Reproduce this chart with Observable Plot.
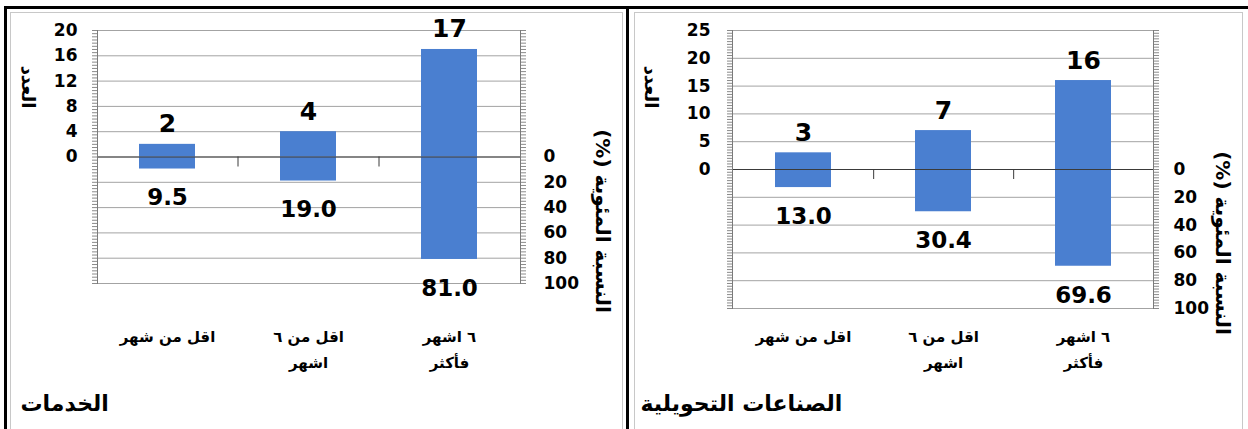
<!DOCTYPE html>
<html><head><meta charset="utf-8">
<script src="https://cdn.jsdelivr.net/npm/d3@7"></script>
<script src="https://cdn.jsdelivr.net/npm/@observablehq/plot@0.6"></script>
<style>
body{margin:0;background:#fff;width:1248px;height:429px;overflow:hidden;position:relative;font-family:"DejaVu Sans";}
#p1{position:absolute;left:0;top:0;}
#p2{position:absolute;left:628px;top:0;}
.b{position:absolute;}
.vt{position:absolute;transform:translate(-50%,-50%) rotate(90deg);white-space:nowrap;direction:rtl;font-family:"DejaVu Sans";font-weight:bold;color:#000;line-height:1;}
</style></head><body>
<div id="p1"></div><div id="p2"></div>
<div class="b" style="left:10px;top:12px;width:611px;height:430px;border:1px solid #c8c8c8"></div>
<div class="b" style="left:634px;top:12px;width:607px;height:430px;border:1px solid #c8c8c8"></div>
<div class="b" style="left:4px;top:6px;width:1244px;height:3px;background:#000"></div>
<div class="b" style="left:4px;top:6px;width:3px;height:430px;background:#000"></div>
<div class="b" style="left:626px;top:6px;width:3px;height:430px;background:#000"></div>
<script>
// ---- data ----
const categories = ["اقل من شهر", "اقل من ٦ اشهر", "٦ اشهر فأكثر"];
const categoryLabels = ["اقل من شهر", "اقل من ٦\nاشهر", "٦ اشهر\nفأكثر"];
const servicesCount = [2, 4, 17];
const servicesPct = [9.5, 19.0, 81.0];
const manufCount = [3, 7, 16];
const manufPct = [13.0, 30.4, 69.6];
const servicesCountTicks = [0, 4, 8, 12, 16, 20];
const manufCountTicks = [0, 5, 10, 15, 20, 25];
const pctTicks = [0, 20, 40, 60, 80, 100];
const panelTitles = ["الخدمات", "الصناعات التحويلية"];
const yTitle = "العدد";
const y2Title = "النسبة المئوية (%)";

const BLUE = "#4a7fd0";
const NUM = {fontFamily: "DejaVu Sans", fontWeight: "bold"};

function vtitle(text, left, top, size) {
  const d = document.createElement("div");
  d.className = "vt";
  d.textContent = text;
  d.style.left = left + "px";
  d.style.top = top + "px";
  d.style.fontSize = size + "px";
  document.body.append(d);
}

function panel(o) {
  const rows = categories.map((c, i) => ({cat: c, count: o.count[i], pct: o.pct[i]}));
  const plotW = o.width - o.mL - o.mR;
  const plotH = o.height - o.mT - o.mB;
  const step = plotW / categories.length;
  const unitPx = plotH / (2 * o.yMax);
  const grid = d3.range(-o.yMax, o.yMax + 0.001, o.step);
  const minor = d3.range(-o.yMax, o.yMax + 0.001, 0.5);
  const labelOf = new Map(categories.map((c, i) => [c, categoryLabels[i]]));
  return Plot.plot({
    width: o.width, height: o.height,
    marginLeft: o.mL, marginRight: o.mR, marginTop: o.mT, marginBottom: o.mB,
    x: {domain: categories, paddingInner: 0.6, paddingOuter: 0.3, axis: null},
    y: {domain: [-o.yMax, o.yMax], axis: null},
    style: {fontFamily: "DejaVu Sans", background: "transparent", color: "#000"},
    marks: [
      Plot.ruleY(grid, {stroke: "#a3a3a3", strokeWidth: 1}),
      Plot.barY(rows, {x: "cat", y1: 0, y2: "count", fill: BLUE}),
      Plot.barY(rows, {x: "cat", y1: 0, y2: d => -d.pct / o.factor, fill: BLUE}),
      Plot.ruleY([0], {stroke: "#3a3a3a", strokeWidth: 1.2}),
      Plot.ruleX(rows.slice(0, rows.length - 1), {x: "cat", y1: 0, y2: -10 / unitPx, dx: step / 2, stroke: "#3a3a3a"}),
      Plot.frame({anchor: "left", stroke: "#7a7a7a"}),
      Plot.frame({anchor: "right", stroke: "#7a7a7a"}),
      Plot.axisY(minor, {anchor: "left", tickSize: 5, tickFormat: () => "", stroke: "#8a8a8a", label: null}),
      Plot.axisY(minor, {anchor: "right", tickSize: 5, tickFormat: () => "", stroke: "#8a8a8a", label: null}),
      Plot.axisY(o.countTicks, {anchor: "left", tickSize: 0, tickPadding: o.padL, fontSize: 17, label: null, ...NUM}),
      Plot.axisY(pctTicks.map(p => -p / o.factor), {anchor: "right", tickSize: 0, tickPadding: o.padR, fontSize: 17, label: null, ...NUM,
        tickFormat: d => String(Math.round(-d * o.factor))}),
      Plot.axisX({anchor: "bottom", tickSize: 0, tickPadding: o.padX, fontSize: 15, lineHeight: 1.75, label: null,
        tickFormat: d => labelOf.get(d), fontFamily: "DejaVu Sans", fontWeight: "bold"}),
      Plot.text(rows, {x: "cat", y: "count", text: d => String(d.count), lineAnchor: "bottom", dy: -12, fontSize: 25, ...NUM}),
      Plot.text(rows, {x: "cat", y: d => -d.pct / o.factor, text: d => d.pct.toFixed(1), lineAnchor: "top", dy: 20, fontSize: 23, ...NUM}),
      Plot.text([o.title], {text: d => d, frameAnchor: "bottom-left", dx: o.t3[0], dy: o.t3[1], textAnchor: "start", fontSize: 22, fontWeight: "bold"})
    ]
  });
}

document.getElementById("p1").append(panel({
  count: servicesCount, pct: servicesPct, factor: 5, yMax: 20, step: 4, countTicks: servicesCountTicks,
  width: 626, height: 429, mL: 97, mR: 106, mT: 30, mB: 146,
  padL: 20, padR: 23, padX: 40,
  t3: [-77, 127], title: panelTitles[0]
}));
document.getElementById("p2").append(panel({
  count: manufCount, pct: manufPct, factor: 4, yMax: 25, step: 5, countTicks: manufCountTicks,
  width: 620, height: 429, mL: 104, mR: 95, mT: 30, mB: 121,
  padL: 22, padR: 20, padX: 15,
  t3: [-92, 102], title: panelTitles[1]
}));
vtitle(yTitle, 28, 87, 18);
vtitle(y2Title, 603, 221, 20);
vtitle(yTitle, 651, 87, 18);
vtitle(y2Title, 1223, 243, 20);
</script>
</body></html>
